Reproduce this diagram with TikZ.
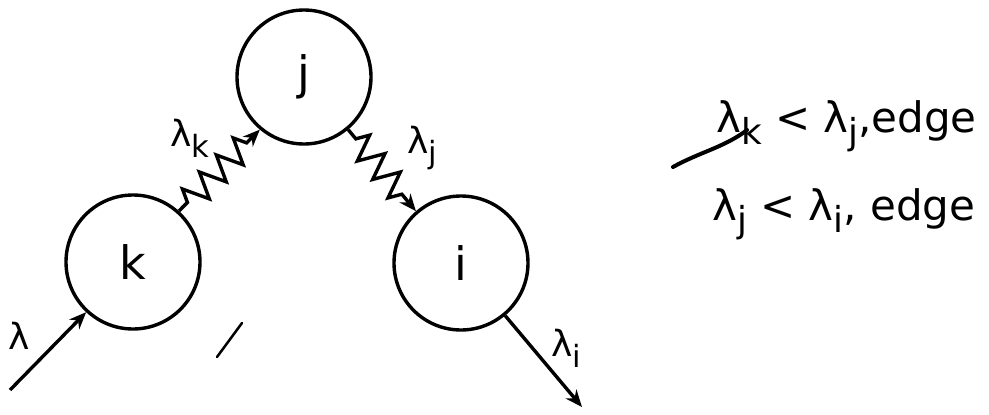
\documentclass[tikz,border=0pt]{standalone}
\usepackage{fontspec}
\setmainfont{DejaVu Sans}
\usetikzlibrary{arrows.meta,decorations.pathmorphing}
\newcommand{\lsub}[1]{\raisebox{-0.3em}{\scalebox{0.85}{#1}}}
\begin{document}
\begin{tikzpicture}[x=1pt,y=-1pt,
  state/.style={circle,draw,line width=3.4pt,minimum size=134pt,inner sep=0pt,font=\fontsize{46}{46}\selectfont},
  wire/.style={line width=3.4pt,-{Stealth[length=17pt,width=14pt]}},
  spring/.style={wire,decorate,decoration={zigzag,segment length=24pt,amplitude=13pt,pre length=12pt,post length=10pt}},
  lab/.style={font=\fontsize{36}{36}\selectfont,inner sep=0pt},
  note/.style={font=\fontsize{42}{42}\selectfont,anchor=base west,inner sep=0pt},
  scribble/.style={line width=4pt,line cap=round}]
\useasboundingbox (0,0) rectangle (989,415);
\node[state] (k) at (133,262) {k};
\node[state] (j) at (304,77) {j};
\node[state] (i) at (461,263) {i};
\coordinate (in) at (10,390);
\coordinate (out) at (582,407);
\draw[wire] (in) -- (k.227);
\draw[spring] (k.48) -- (j.230);
\draw[spring] (j.310) -- (i.131);
\draw[wire] (i.-50) -- (out);
\node[lab] (l0) at (19,336) {λ};
\node[lab] (lk) at (190,138) {λ\lsub{k}};
\node[lab] (lj) at (422,148) {λ\lsub{j}};
\node[lab] (li) at (566,348) {λ\lsub{i}};
\node[note] (n1) at (716,132) {λ\lsub{k} < λ\lsub{j},edge};
\node[note] (n2) at (712,220) {λ\lsub{j} < λ\lsub{i}, edge};
\coordinate (s1) at (673,167);
\coordinate (s2) at (747,130);
\draw[scribble] (s1) .. controls (700,152) and (725,147) .. (s2);
\coordinate (t1) at (217,357);
\coordinate (t2) at (242,323);
\draw[line width=2.5pt,line cap=round] (t1) -- (t2);
\end{tikzpicture}
\end{document}
